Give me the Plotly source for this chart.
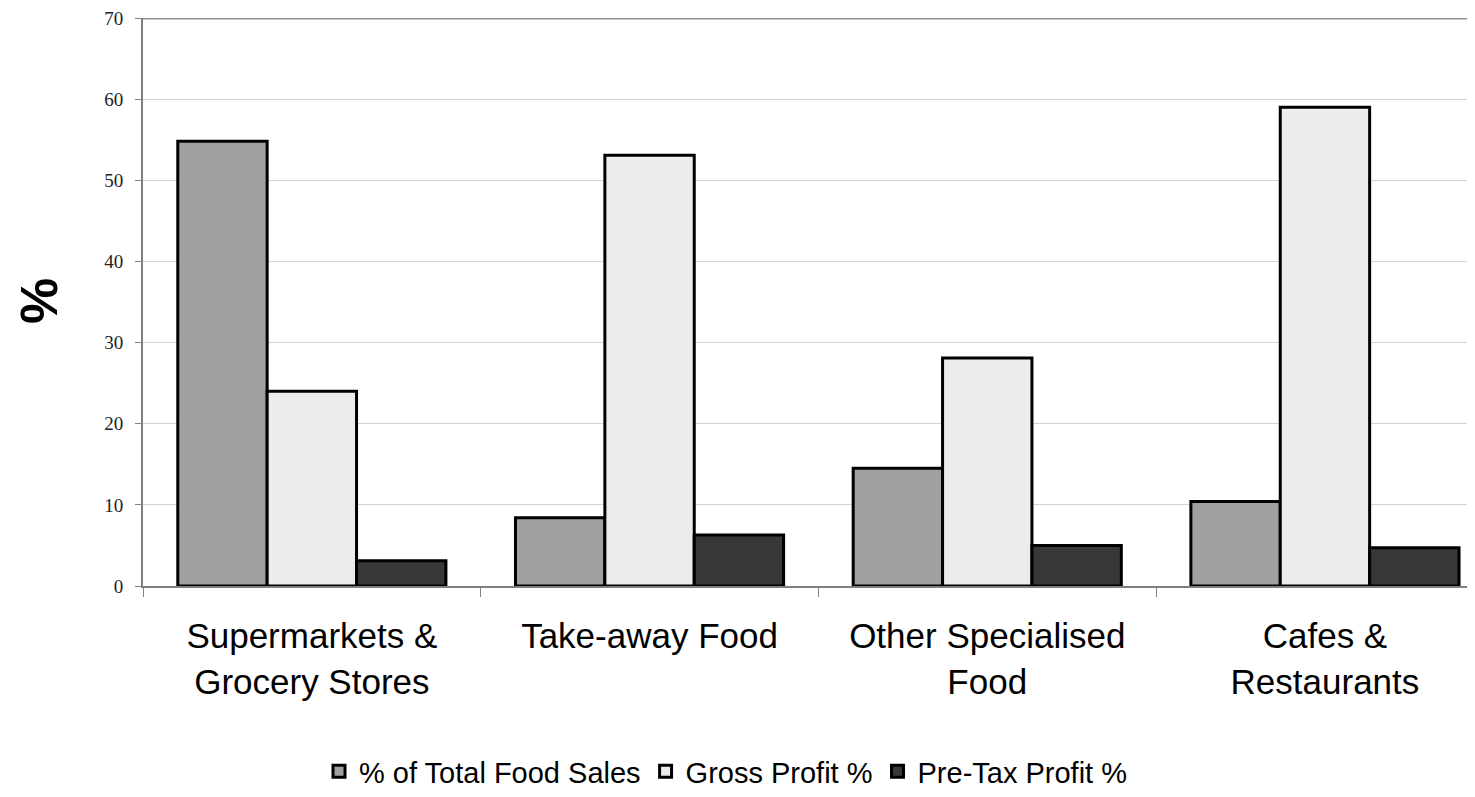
import plotly.graph_objects as go

categories = ["Supermarkets &<br>Grocery Stores", "Take-away Food", "Other Specialised<br>Food", "Cafes &<br>Restaurants"]
series_names = ["% of Total Food Sales", "Gross Profit %", "Pre-Tax Profit %"]
total_food_sales = [54.8, 8.4, 14.5, 10.4]
gross_profit = [24.0, 53.1, 28.1, 59.0]
pretax_profit = [3.1, 6.3, 5.0, 4.7]
colors = ["#a0a0a0", "#ececec", "#383838"]
y_ticks = [0, 10, 20, 30, 40, 50, 60, 70]

# page body has an 8px margin; size the figure so it fits the 1475x797 window
W, H = 1467, 789
L, T, B = 135, 10, 211
plot_w = W - L
plot_h = H - T - B
cat_px = 337.7

fig = go.Figure()
for name, vals, col in zip(series_names, [total_food_sales, gross_profit, pretax_profit], colors):
    fig.add_trace(go.Bar(
        x=categories, y=vals, name=name,
        marker=dict(color=col, line=dict(color="#000000", width=3)),
    ))

fig.update_layout(
    width=W, height=H,
    margin=dict(l=L, r=0, t=T, b=B),
    paper_bgcolor="white", plot_bgcolor="white",
    barmode="group", bargap=0.206, bargroupgap=0,
    font=dict(family="Liberation Sans, Arial", color="#000000"),
    showlegend=True,
    legend=dict(orientation="h", x=(726 - 143) / plot_w, xanchor="center",
                y=(586 - 772) / plot_h, yanchor="middle",
                font=dict(size=29, family="Liberation Sans, Arial"),
                traceorder="normal"),
)
fig.update_xaxes(
    range=[-0.5, -0.5 + plot_w / cat_px],
    tickson="boundaries", ticks="outside", ticklen=9, tickwidth=1, tickcolor="#808080",
    showline=True, linecolor="#808080", linewidth=2,
    tickfont=dict(size=35, family="Liberation Sans, Arial", color="#000000"),
    ticklabelstandoff=18,
    showgrid=False,
)
fig.update_yaxes(
    range=[0, 70], tickvals=y_ticks, ticktext=[str(v) for v in y_ticks],
    ticks="outside", ticklen=6, tickcolor="#808080", tickwidth=1,
    showline=True, linecolor="#808080", linewidth=2,
    showgrid=True, gridcolor="#d4d4d4", gridwidth=1,
    tickfont=dict(size=19, family="Liberation Serif, Times New Roman", color="#222222"),
    ticklabelstandoff=8, ticklabeloverflow="allow",
    zeroline=False,
)
fig.add_shape(type="line", xref="paper", yref="y", x0=0, x1=1, y0=70, y1=70,
              line=dict(color="#909090", width=3))
fig.add_annotation(text="<b>%</b>", xref="paper", yref="paper",
                   x=(39 - 143) / plot_w, y=(586 - 301) / plot_h,
                   xanchor="center", yanchor="middle",
                   textangle=-90, showarrow=False,
                   font=dict(size=52, family="Liberation Sans, Arial", color="#000000"))

fig.write_html("out.html")
